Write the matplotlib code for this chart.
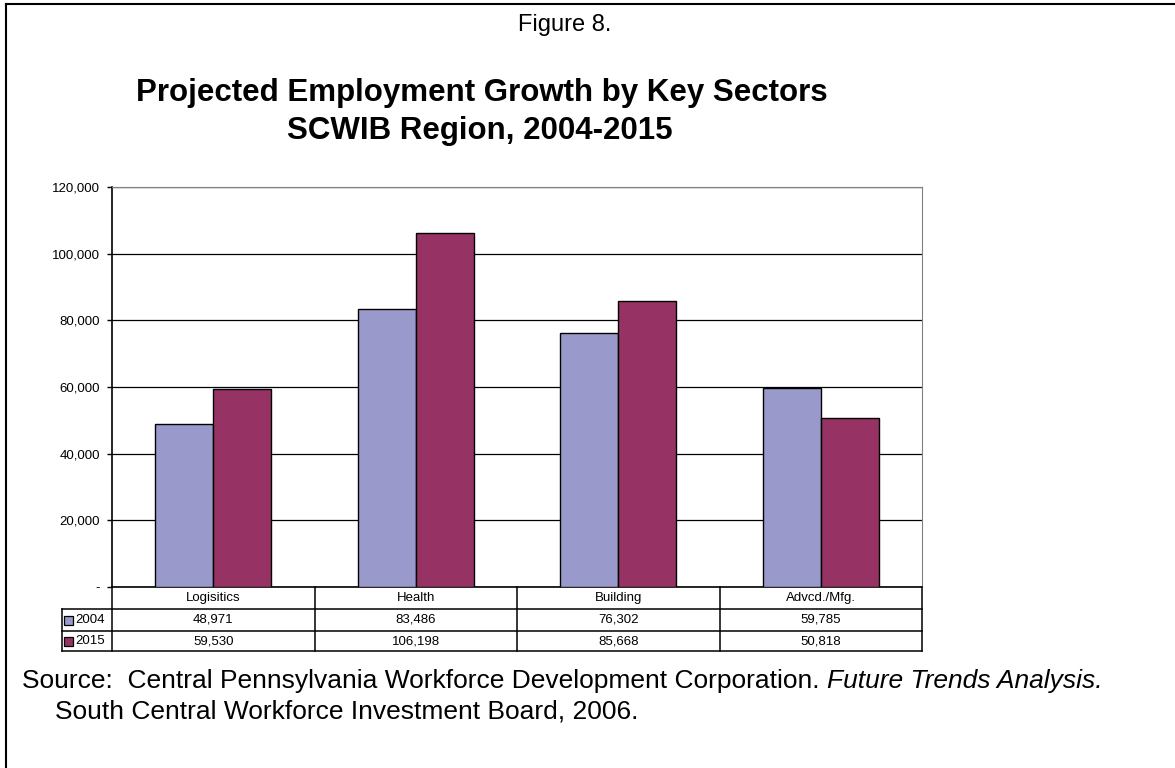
import matplotlib.pyplot as plt
import numpy as np
from matplotlib.lines import Line2D
from matplotlib.patches import Rectangle
from matplotlib.transforms import blended_transform_factory

plt.rcParams['font.family'] = ['Liberation Sans', 'DejaVu Sans']

sectors = ['Logisitics', 'Health', 'Building', 'Advcd./Mfg.']
years = ['2004', '2015']
jobs_2004 = [48971, 83486, 76302, 59785]
jobs_2015 = [59530, 106198, 85668, 50818]
yticks = [0, 20000, 40000, 60000, 80000, 100000, 120000]
ytick_labels = ['-', '20,000', '40,000', '60,000', '80,000', '100,000', '120,000']

c2004 = '#9999cc'
c2015 = '#963364'

fig = plt.figure(figsize=(11.75, 7.68), dpi=100)
W, H = 1175, 768

# plot area in pixels
x0, x1, ytop, ybot = 112, 922, 187, 587
ax = fig.add_axes([x0 / W, 1 - ybot / H, (x1 - x0) / W, (ybot - ytop) / H])
ph = ybot - ytop

x = np.arange(len(sectors))
bw = 0.286
ax.bar(x - bw / 2, jobs_2004, bw, color=c2004, edgecolor='black', linewidth=1, zorder=3)
ax.bar(x + bw / 2, jobs_2015, bw, color=c2015, edgecolor='black', linewidth=1, zorder=3)

ax.set_xlim(-0.5, len(sectors) - 0.5)
ax.set_ylim(0, 120000)
ax.set_yticks(yticks)
ax.set_yticklabels(ytick_labels, fontsize=9.5)
ax.set_xticks([])
ax.tick_params(axis='y', length=3.5, width=1, color='black', pad=5)
ax.grid(axis='y', color='black', linewidth=0.9, zorder=0)
ax.spines['left'].set_color('black')
ax.spines['left'].set_linewidth(1.2)
ax.spines['bottom'].set_color('black')
ax.spines['bottom'].set_linewidth(1.2)
ax.spines['top'].set_color('#808080')
ax.spines['right'].set_color('#808080')

# data table under the bars: data x, axes y
tr = blended_transform_factory(ax.transData, ax.transAxes)
ncat = len(sectors)
cat_w = (x1 - x0) / ncat
lab_left = -0.5 - 50 / cat_w


def ay(py):
    return (ybot - py) / ph


row_edges = [587, 609, 631, 651]
line_kw = dict(transform=tr, color='black', linewidth=1.1, clip_on=False)
for py in row_edges[1:]:
    ax.plot([lab_left, ncat - 0.5], [ay(py)] * 2, **line_kw)
ax.plot([lab_left] * 2, [ay(609), ay(651)], **line_kw)
for b in np.arange(-0.5, ncat, 1.0):
    ax.plot([b, b], [ay(587), ay(651)], **line_kw)

rows = [jobs_2004, jobs_2015]
for i, name in enumerate(sectors):
    ax.text(i, ay(598), name, transform=tr, ha='center', va='center', fontsize=9.5)
    for r, vals in enumerate(rows):
        yc = (row_edges[r + 1] + row_edges[r + 2]) / 2
        ax.text(i, ay(yc), f'{vals[i]:,}', transform=tr, ha='center', va='center',
                fontsize=9.5)

# legend keys and year labels
for r, (yr, col) in enumerate(zip(years, [c2004, c2015])):
    yc = (row_edges[r + 1] + row_edges[r + 2]) / 2
    ax.add_patch(Rectangle((lab_left + 2 / cat_w, ay(yc + 4.5)), 9 / cat_w, 9 / ph,
                           transform=tr, facecolor=col, edgecolor='black',
                           linewidth=0.9, clip_on=False, zorder=5))
    ax.text(lab_left + 13 / cat_w, ay(yc), yr, transform=tr, ha='left', va='center',
            fontsize=9.5)

# headings
fig.text(565 / W, 1 - 25 / H, 'Figure 8.', ha='center', va='center', fontsize=17)
fig.text(482 / W, 1 - 93 / H, 'Projected Employment Growth by Key Sectors',
         ha='center', va='center', fontsize=22.5, fontweight='bold')
fig.text(480 / W, 1 - 131 / H, 'SCWIB Region, 2004-2015',
         ha='center', va='center', fontsize=22.5, fontweight='bold')

# source note
src = fig.text(22 / W, 1 - 681 / H,
               'Source:  Central Pennsylvania Workforce Development Corporation. ',
               ha='left', va='center', fontsize=19)
fig.canvas.draw()
bb = src.get_window_extent()
fig.text(bb.x1 / W, 1 - 681 / H, 'Future Trends Analysis.', ha='left', va='center',
         fontsize=19, style='italic')
fig.text(55 / W, 1 - 711 / H, 'South Central Workforce Investment Board, 2006.',
         ha='left', va='center', fontsize=19)

# page frame
fig.add_artist(Line2D([6 / W, 6 / W], [0, 1 - 4 / H], transform=fig.transFigure,
                      color='black', linewidth=1.5))
fig.add_artist(Line2D([6 / W, 1], [1 - 4 / H, 1 - 4 / H], transform=fig.transFigure,
                      color='black', linewidth=1.5))

plt.savefig('out.png', dpi=100)
